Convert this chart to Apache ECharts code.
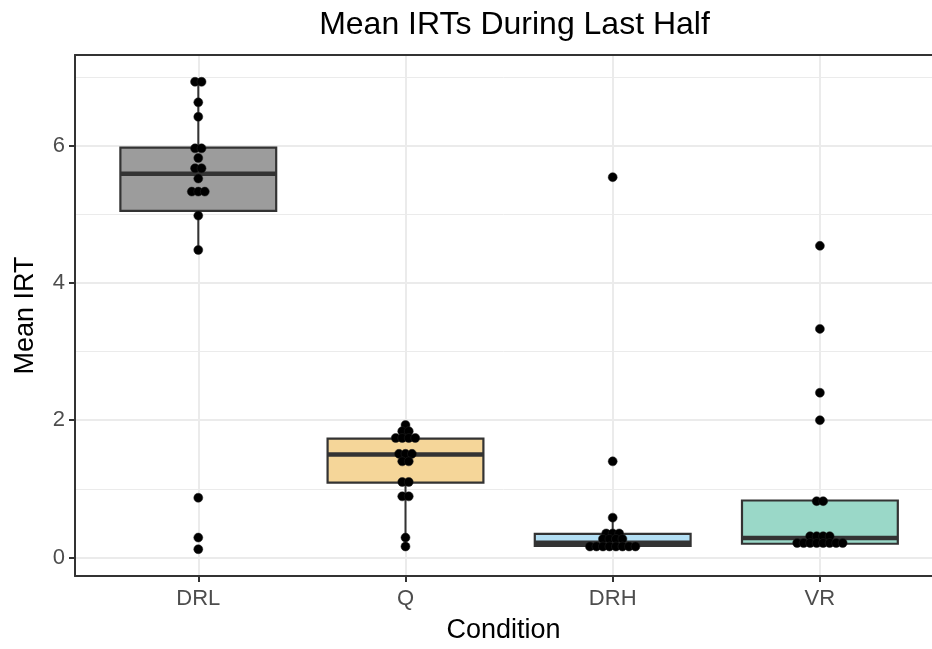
<!DOCTYPE html>
<html>
<head>
<meta charset="utf-8">
<script src="https://cdn.jsdelivr.net/npm/echarts@6/dist/echarts.min.js"></script>
<style>
html, body { margin: 0; padding: 0; background: #fff; }
#chart { width: 932px; height: 649px; }
</style>
</head>
<body>
<div id="chart"></div>
<script>
// categories and tick values
const categories = ['DRL', 'Q', 'DRH', 'VR']
const yTicks = [0, 2, 4, 6]
const yMinor = [1, 3, 5, 7]

// box statistics
const boxLow = [4.48, 0.16, 0.14, 0.20]
const boxQ1 = [5.05, 1.09, 0.17, 0.20]
const boxMedian = [5.59, 1.50, 0.215, 0.285]
const boxQ3 = [5.97, 1.73, 0.345, 0.83]
const boxHigh = [6.93, 1.93, 0.58, 0.82]
const boxColors = ['#9c9c9c', '#f5d699', '#b3dff4', '#9ad8c8']

// dot values (binned, repeated values stack side by side)
const drlDots = [6.93, 6.93, 6.63, 6.42, 5.96, 5.96, 5.82, 5.67, 5.67, 5.52, 5.33, 5.33, 5.33, 4.98, 4.48, 0.87, 0.29, 0.12]
const qDots = [1.93, 1.84, 1.84, 1.74, 1.74, 1.74, 1.74, 1.51, 1.51, 1.51, 1.40, 1.40, 1.10, 1.10, 0.89, 0.89, 0.29, 0.16]
const drhDots = [5.54, 1.40, 0.58, 0.35, 0.35, 0.35, 0.27, 0.27, 0.27, 0.27, 0.16, 0.16, 0.16, 0.16, 0.16, 0.16, 0.16, 0.16]
const vrDots = [4.54, 3.33, 2.40, 2.00, 0.82, 0.82, 0.31, 0.31, 0.31, 0.31, 0.21, 0.21, 0.21, 0.21, 0.21, 0.21, 0.21, 0.21]
const dotGroups = [drlDots, qDots, drhDots, vrDots]

const dotStep = 0.0314 // horizontal stacking step, in category units
const boxHalf = 0.376

// stack equal values centred on the category
const dotData = []
dotGroups.forEach(function (vals, i) {
  const counts = {}
  vals.forEach(function (v) { counts[v] = (counts[v] || 0) + 1 })
  Object.keys(counts).forEach(function (k) {
    const n = counts[k]
    for (let j = 0; j < n; j++) {
      dotData.push([i + 1 + (j - (n - 1) / 2) * dotStep, Number(k)])
    }
  })
})

const boxData = categories.map(function (c, i) {
  return [i + 1, boxLow[i], boxQ1[i], boxMedian[i], boxQ3[i], boxHigh[i]]
})

const gridLines = []
yTicks.forEach(function (v) {
  gridLines.push({ yAxis: v, lineStyle: { width: 2 } })
})
yMinor.forEach(function (v) {
  gridLines.push({ yAxis: v, lineStyle: { width: 1 } })
})
categories.forEach(function (c, i) {
  gridLines.push({ xAxis: i + 1, lineStyle: { width: 2 } })
})

const myChart = echarts.init(document.getElementById('chart'))
const font = 'Liberation Sans'
const option = {
  animation: false,
  title: {
    text: 'Mean IRTs During Last Half',
    left: 509.5,
    top: 4,
    textAlign: 'center',
    textStyle: { fontFamily: font, fontSize: 32, fontWeight: 'normal', color: '#000' }
  },
  // the panel runs past the right edge of the picture
  grid: { left: 75, top: 55, right: 0, height: 522.5 },
  xAxis: [
    {
      type: 'value',
      min: 0.405,
      max: 4.541,
      z: 10,
      name: 'Condition',
      nameLocation: 'middle',
      nameGap: 41,
      nameTextStyle: { fontFamily: font, fontSize: 27, color: '#000' },
      axisLine: { show: true, onZero: false, lineStyle: { color: '#333', width: 2 } },
      axisTick: { show: true, length: 6, customValues: [1, 2, 3, 4], lineStyle: { color: '#333', width: 2 } },
      axisLabel: {
        customValues: [1, 2, 3, 4],
        margin: 12,
        fontFamily: font,
        fontSize: 22,
        color: '#4d4d4d',
        formatter: function (v) { return categories[Math.round(v) - 1] }
      },
      splitLine: { show: false }
    },
    {
      type: 'value',
      position: 'top',
      min: 0.405,
      max: 4.541,
      z: 10,
      axisLine: { show: true, onZero: false, lineStyle: { color: '#333', width: 2 } },
      axisTick: { show: false },
      axisLabel: { show: false },
      splitLine: { show: false }
    }
  ],
  yAxis: {
    type: 'value',
    min: -0.27,
    max: 7.32,
    z: 10,
    name: 'Mean IRT',
    nameLocation: 'middle',
    nameGap: 36,
    nameTextStyle: { fontFamily: font, fontSize: 27, color: '#000' },
    axisLine: { show: true, onZero: false, lineStyle: { color: '#333', width: 2 } },
    axisTick: { show: true, length: 6, customValues: yTicks, lineStyle: { color: '#333', width: 2 } },
    axisLabel: { customValues: yTicks, margin: 10, fontFamily: font, fontSize: 22, color: '#4d4d4d' },
    splitLine: { show: false }
  },
  series: [
    {
      type: 'line',
      data: [],
      z: 1,
      markLine: {
        silent: true,
        z: 1,
        symbol: 'none',
        label: { show: false },
        lineStyle: { color: '#ebebeb', type: 'solid' },
        data: gridLines
      }
    },
    {
      type: 'custom',
      z: 2,
      data: boxData,
      renderItem: function (params, api) {
        const i = params.dataIndex
        const x = api.value(0)
        const low = api.coord([x, api.value(1)])
        const q1 = api.coord([x, api.value(2)])
        const q3 = api.coord([x, api.value(4)])
        const high = api.coord([x, api.value(5)])
        const tl = api.coord([x - boxHalf, api.value(4)])
        const br = api.coord([x + boxHalf, api.value(2)])
        const ml = api.coord([x - boxHalf, api.value(3)])
        const mr = api.coord([x + boxHalf, api.value(3)])
        const stroke = { stroke: '#333', lineWidth: 2 }
        return {
          type: 'group',
          children: [
            { type: 'line', shape: { x1: q3[0], y1: q3[1], x2: high[0], y2: high[1] }, style: stroke },
            { type: 'line', shape: { x1: q1[0], y1: q1[1], x2: low[0], y2: low[1] }, style: stroke },
            {
              type: 'rect',
              shape: { x: tl[0], y: tl[1], width: br[0] - tl[0], height: br[1] - tl[1] },
              style: { fill: boxColors[i], stroke: '#333', lineWidth: 2.2 }
            },
            { type: 'line', shape: { x1: ml[0], y1: ml[1], x2: mr[0], y2: mr[1] }, style: { stroke: '#333', lineWidth: 4.5 } }
          ]
        }
      }
    },
    {
      type: 'scatter',
      z: 3,
      symbol: 'circle',
      symbolSize: 9,
      data: dotData,
      itemStyle: { color: '#000', borderColor: '#222', borderWidth: 0.5, opacity: 1 }
    }
  ]
}
myChart.setOption(option)
</script>
</body>
</html>
